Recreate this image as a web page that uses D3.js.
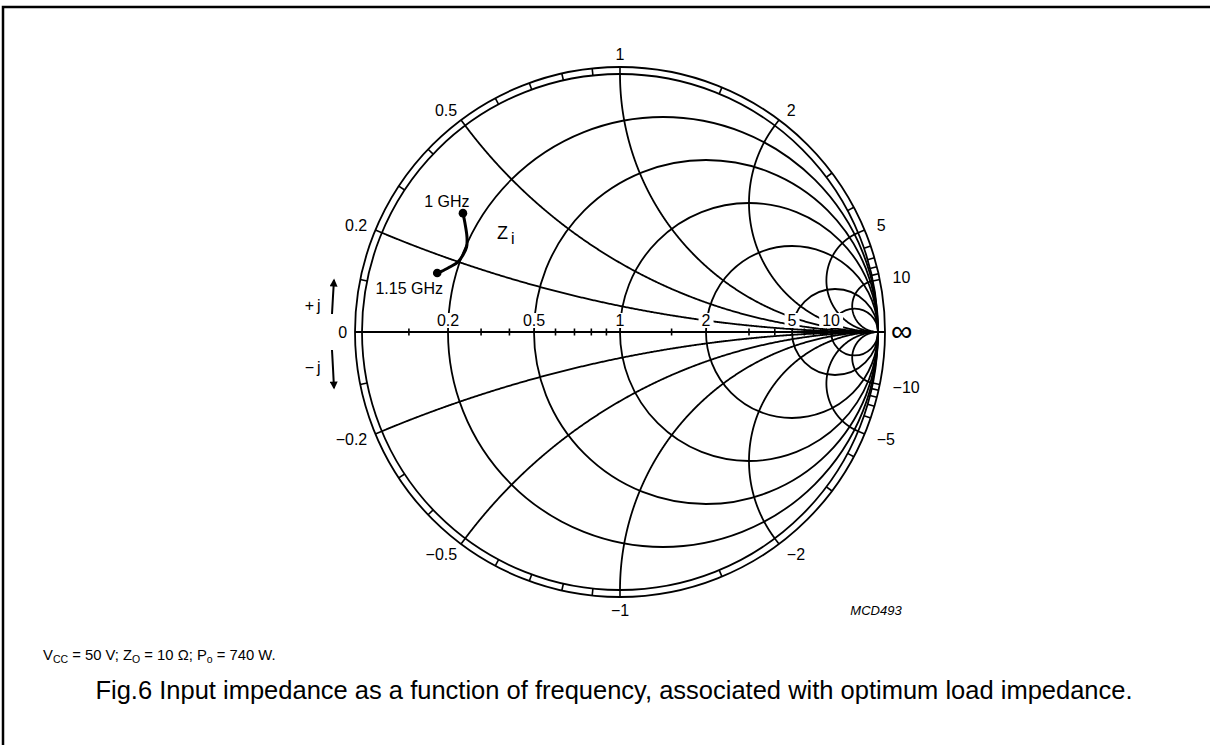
<!DOCTYPE html>
<html><head><meta charset="utf-8">
<script src="https://cdn.jsdelivr.net/npm/d3@7"></script>
<style>
html,body{margin:0;padding:0;background:#fff;}
svg text{font-family:"Liberation Sans",Arial,Helvetica,sans-serif;fill:#000;}
</style></head>
<body>
<svg id="chart" width="1210" height="745"></svg>
<script>
// ---- data ----
const resistanceCircles = [0.2, 0.5, 1, 2, 5, 10];
const reactanceArcs = [0.2, 0.5, 1, 2, 5, 10, -0.2, -0.5, -1, -2, -5, -10];
const ringTicks = [0.1,0.2,0.3,0.4,0.5,0.6,0.7,0.8,0.9,1,1.5,2,3,4,5,6,7,8,9,10];
const axisTicks = [0.1,0.3,0.4,0.6,0.7,0.8,0.9,1.5,3,4,6,7,8,9];
const axisLabels = ["0.2","0.5","1","2","5","10"];
const ringLabelsPos = ["0.2","0.5","1","2","5","10"];
const ringLabelsNeg = ["\u22120.2","\u22120.5","\u22121","\u22122","\u22125","\u221210"];
// input impedance Zi (normalised r + jx), 1 GHz -> 1.15 GHz
const curveR = [0.149,0.168,0.192,0.203,0.202,0.195,0.178,0.161,0.150];
const curveX = [0.329,0.308,0.275,0.248,0.223,0.199,0.179,0.162,0.154];
const curveLabels = ["1 GHz","1.15 GHz"];

// ---- geometry ----
const svg = d3.select("#chart");
const cx = 620, cy = 332, R = 258;
const sx = d3.scaleLinear().domain([-1,1]).range([cx-R, cx+R]);
const sy = d3.scaleLinear().domain([-1,1]).range([cy+R, cy-R]);
const ringOuter = 265/258;

function gamma(r, x){ // (z-1)/(z+1)
  const a = r-1, b = x, c = r+1, d = x;
  const den = c*c + d*d;
  return [(a*c + b*d)/den, (b*c - a*d)/den];
}
const ink = "#000";
const lw = 1.8;

// frame
svg.append("path").attr("d", d3.line()([[3,745],[3,7],[1210,7]]))
  .attr("fill","none").attr("stroke",ink).attr("stroke-width",2.5);

const g = svg.append("g");

// ring
g.append("circle").attr("cx",sx(0)).attr("cy",sy(0)).attr("r",sx(1)-sx(0))
  .attr("fill","none").attr("stroke",ink).attr("stroke-width",lw);
g.append("circle").attr("cx",sx(0)).attr("cy",sy(0)).attr("r",sx(ringOuter)-sx(0))
  .attr("fill","none").attr("stroke",ink).attr("stroke-width",lw);
ringTicks.forEach(v => {
  [v,-v].forEach(x => {
    const th = Math.PI - 2*Math.atan(x);
    g.append("line")
      .attr("x1", sx(Math.cos(th))).attr("y1", sy(Math.sin(th)))
      .attr("x2", sx(ringOuter*Math.cos(th))).attr("y2", sy(ringOuter*Math.sin(th)))
      .attr("stroke",ink).attr("stroke-width",1.6);
  });
});

// resistance circles
resistanceCircles.forEach(r => {
  g.append("circle").attr("cx", sx(r/(r+1))).attr("cy", sy(0))
    .attr("r", sx(1/(r+1)) - sx(0))
    .attr("fill","none").attr("stroke",ink).attr("stroke-width",lw);
});

// reactance arcs
const line = d3.line().x(d=>sx(d[0])).y(d=>sy(d[1]));
const tSamples = d3.range(0, 1.0001, 0.002);
reactanceArcs.forEach(x => {
  const pts = tSamples.map(t => t >= 1 ? [1,0] : gamma(t/(1-t), x));
  g.append("path").attr("d", line(pts)).attr("fill","none")
    .attr("stroke",ink).attr("stroke-width",lw);
});

// real axis
g.append("line").attr("x1", sx(-ringOuter)).attr("x2", sx(ringOuter))
  .attr("y1", sy(0)).attr("y2", sy(0)).attr("stroke",ink).attr("stroke-width",2.2);
axisTicks.forEach(r => {
  const gx = (r-1)/(r+1);
  g.append("line").attr("x1", sx(gx)).attr("x2", sx(gx))
    .attr("y1", sy(0)-3.5).attr("y2", sy(0)+3.5).attr("stroke",ink).attr("stroke-width",1.6);
});

// axis labels with white knock-out
const fs = 16;
axisLabels.forEach(lbl => {
  const r = +lbl, gx = (r-1)/(r+1);
  const t = g.append("text").attr("x", sx(gx)).attr("y", sy(0)-6)
    .attr("text-anchor","middle").attr("font-size",fs).text(lbl);
  const bb = t.node().getBBox();
  g.insert("rect", "text").attr("x", bb.x-3).attr("y", bb.y+1)
    .attr("width", bb.width+6).attr("height", bb.height-2).attr("fill","#fff");
});

// ring labels
function ringLabel(x, txt){
  const th = Math.PI - 2*Math.atan(x);
  const rr = 1.078;
  const px = sx(rr*Math.cos(th)), py = sy(rr*Math.sin(th));
  const c = Math.cos(th);
  const anchor = c < -0.15 ? "end" : (c > 0.15 ? "start" : "middle");
  g.append("text").attr("x", px + (c < -0.15 ? 4 : 0)).attr("y", py + 6)
    .attr("text-anchor", anchor).attr("font-size", fs).text(txt);
}
ringLabelsPos.forEach(l => ringLabel(+l, l));
ringLabelsNeg.forEach((l,i) => ringLabel(-(+ringLabelsPos[i]), l));
// 0 and infinity
g.append("text").attr("x", sx(-1.058)).attr("y", sy(0)+6).attr("text-anchor","end")
  .attr("font-size",fs).text("0");
g.append("text").attr("x", sx(1.05)).attr("y", sy(0)+9).attr("text-anchor","start")
  .attr("font-size",30).text("\u221E");

// +j / -j arrows
const arr = svg.append("defs").append("marker").attr("id","ah")
  .attr("viewBox","0 0 10 10").attr("refX",8).attr("refY",5)
  .attr("markerWidth",12).attr("markerHeight",8).attr("orient","auto")
  .attr("markerUnits","userSpaceOnUse");
arr.append("path").attr("d","M0,0 L10,5 L0,10 Z").attr("fill",ink);
svg.append("path").attr("d", d3.line().curve(d3.curveBasis)([[332,314],[333,296],[334,280]]))
  .attr("fill","none").attr("stroke",ink).attr("stroke-width",2).attr("marker-end","url(#ah)");
svg.append("path").attr("d", d3.line().curve(d3.curveBasis)([[332,350],[333,368],[334,388]]))
  .attr("fill","none").attr("stroke",ink).attr("stroke-width",2).attr("marker-end","url(#ah)");
svg.append("text").attr("x",314).attr("y",311).attr("text-anchor","end").attr("font-size",fs).text("+");
svg.append("text").attr("x",317).attr("y",311).attr("text-anchor","start").attr("font-size",fs).text("j");
svg.append("text").attr("x",314).attr("y",373).attr("text-anchor","end").attr("font-size",fs).text("\u2212");
svg.append("text").attr("x",317).attr("y",373).attr("text-anchor","start").attr("font-size",fs).text("j");

// impedance curve
const cpts = curveR.map((r,i) => gamma(r, curveX[i]));
g.append("path").attr("d", d3.line().x(d=>sx(d[0])).y(d=>sy(d[1])).curve(d3.curveCatmullRom)(cpts))
  .attr("fill","none").attr("stroke",ink).attr("stroke-width",3);
[cpts[0], cpts[cpts.length-1]].forEach(p => {
  g.append("circle").attr("cx", sx(p[0])).attr("cy", sy(p[1])).attr("r",4.3).attr("fill",ink);
});
g.append("text").attr("x", sx(cpts[0][0])-16).attr("y", sy(cpts[0][1])-6)
  .attr("text-anchor","middle").attr("font-size",fs).text(curveLabels[0]);
g.append("text").attr("x", sx(cpts[cpts.length-1][0])-28).attr("y", sy(cpts[cpts.length-1][1])+21)
  .attr("text-anchor","middle").attr("font-size",fs).text(curveLabels[1]);
const zt = g.append("text").attr("x", 497).attr("y", 239).attr("font-size",18);
zt.append("tspan").text("Z");
zt.append("tspan").attr("dx",3).attr("dy",5).attr("font-size",16).text("i");

// code
svg.append("text").attr("x",876).attr("y",615).attr("text-anchor","middle")
  .attr("font-size",13).attr("font-style","italic").text("MCD493");

// conditions
const ct = svg.append("text").attr("x",43).attr("y",660).attr("font-size",14.8);
ct.append("tspan").text("V");
ct.append("tspan").attr("font-size",10.5).attr("dy",3).text("CC");
ct.append("tspan").attr("dy",-3).text(" = 50 V; Z");
ct.append("tspan").attr("font-size",10.5).attr("dy",3).text("O");
ct.append("tspan").attr("dy",-3).text(" = 10 \u03A9; P");
ct.append("tspan").attr("font-size",10.5).attr("dy",3).text("o");
ct.append("tspan").attr("dy",-3).text(" = 740 W.");

// caption
svg.append("text").attr("x",614).attr("y",699).attr("font-size",25.5).attr("text-anchor","middle")
  .text("Fig.6  Input impedance as a function of frequency, associated with optimum load impedance.");
</script>
</body></html>
